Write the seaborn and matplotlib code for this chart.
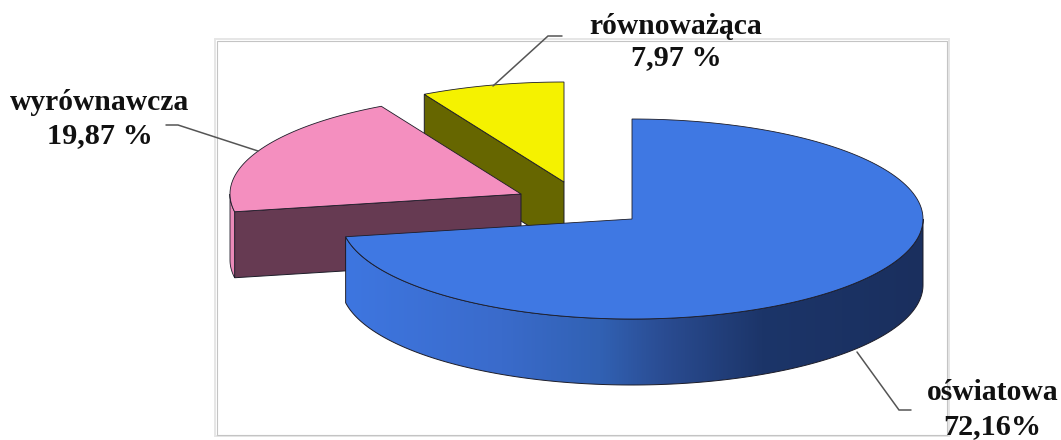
#!/usr/bin/env python3
"""Exploded 3D-style pie of the subsidy shares."""

import matplotlib
matplotlib.use("Agg")
import matplotlib.pyplot as plt
import numpy as np
import seaborn as sns
from matplotlib.colors import LinearSegmentedColormap
from matplotlib.patches import PathPatch, Polygon, Rectangle
from matplotlib.path import Path

LABELS = ["oświatowa", "wyrównawcza", "równoważąca"]
VALUE_TEXT = ["72,16%", "19,87 %", "7,97 %"]
VALUES = [72.16, 19.87, 7.97]

TOP_COLORS = ["#3f78e3", "#f48fbf", "#f5f200"]
FLAT_COLORS = ["#3f78e3", "#663a52", "#666600"]
RIM_COLORS = ["#3f78e3", "#ea8ab8", "#8f8f00"]
GRADIENT_STOPS = [(0.0, "#3e76e0"), (0.27, "#3a6bcb"), (0.44, "#3161b3"),
                  (0.55, "#2a4c92"), (0.72, "#1c3569"), (1.0, "#1a2f5e")]

# layout, in pixels of the picture
CENTERS = [(632, 219), (521, 194), (564, 182)]
RX, RY, DEPTH = 291, 100, 66
EDGE = "#1c1c28"

sns.set_theme(style="white")
plt.rcParams["font.family"] = ["Liberation Serif", "DejaVu Serif"]


def rim(center, start, end, drop=0.0, n=160):
    theta = np.radians(np.linspace(start, end, n))
    x = center[0] + RX * np.sin(theta)
    y = center[1] - RY * np.cos(theta) + drop
    return np.column_stack([x, y])


def flat_side(ax, center, angle, color):
    # cut face running from the centre to the rim, extruded downwards
    tip = rim(center, angle, angle, n=1)[0]
    pts = [center, tip, (tip[0], tip[1] + DEPTH), (center[0], center[1] + DEPTH)]
    ax.add_patch(Polygon(pts, closed=True, facecolor=color, edgecolor=EDGE, linewidth=0.7))


def outer_wall(start, end, center):
    top = rim(center, start, end)
    bottom = rim(center, start, end, drop=DEPTH)[::-1]
    return np.vstack([top, bottom])


fig, ax = plt.subplots(figsize=(10.61, 4.40), dpi=100)
ax.set_position([0, 0, 1, 1])

# chart frame, double line
ax.add_patch(Rectangle((214.5, 39.5), 734.5, 397, fill=False, edgecolor="#e6e6e6", linewidth=1.4))
ax.add_patch(Rectangle((216.5, 41.5), 730.5, 394, fill=False, edgecolor="#c4c4c4", linewidth=0.8))

shares = np.array(VALUES) / sum(VALUES) * 360.0
starts = np.concatenate([[0.0], np.cumsum(shares)[:-1]])
ends = np.cumsum(shares)

# back to front: yellow, pink, blue
for i in [2, 1, 0]:
    center = CENTERS[i]
    start, end = starts[i], ends[i]

    if i == 0:
        wall = outer_wall(90.0, end, center)
        patch = Polygon(wall, closed=True, facecolor="none", edgecolor=EDGE, linewidth=0.7, zorder=2)
        ax.add_patch(patch)
        cmap = LinearSegmentedColormap.from_list("rim", GRADIENT_STOPS)
        # lightest on the left, darkest on the right
        img = ax.imshow(np.linspace(0, 1, 256)[None, :], cmap=cmap, vmin=0, vmax=1, aspect="auto",
                        extent=(wall[:, 0].min(), wall[:, 0].max(), 440, 0), zorder=1.9)
        img.set_clip_path(patch)
    elif i == 1:
        flat_side(ax, center, start, FLAT_COLORS[i])
        wall = outer_wall(start, 270.0, center)
        ax.add_patch(Polygon(wall, closed=True, facecolor=RIM_COLORS[i], edgecolor=EDGE, linewidth=0.6))
    else:
        flat_side(ax, center, start, FLAT_COLORS[i])

    arc = rim(center, start, end)
    pts = np.vstack([[center], arc, [center]])
    codes = [Path.MOVETO] + [Path.LINETO] * (len(pts) - 2) + [Path.CLOSEPOLY]
    ax.add_patch(PathPatch(Path(pts, codes), facecolor=TOP_COLORS[i], edgecolor=EDGE,
                           linewidth=0.6, zorder=3 if i == 0 else 1.5))

# leader lines
leaders = [[(857, 352), (899, 410), (911, 410)],
           [(258, 151), (178, 125), (166, 125)],
           [(493, 86), (548, 36), (562, 36)]]
for line in leaders:
    xs, ys = zip(*line)
    ax.plot(xs, ys, color="#555555", linewidth=1.1, zorder=4, solid_joinstyle="miter")

# labels
label_xy = [(993, 393), (100, 102), (676, 26)]
value_xy = [(992, 427), (100, 136), (676, 58)]
for i in range(3):
    ax.text(*label_xy[i], LABELS[i], ha="center", va="center", fontsize=21.3, fontweight="bold",
            color="#111111", zorder=5)
    ax.text(*value_xy[i], VALUE_TEXT[i], ha="center", va="center", fontsize=21.8, fontweight="bold",
            color="#111111", zorder=5)

ax.set_xlim(0, 1061)
ax.set_ylim(440, 0)
ax.axis("off")
fig.savefig("out.png", dpi=100, facecolor="white")
